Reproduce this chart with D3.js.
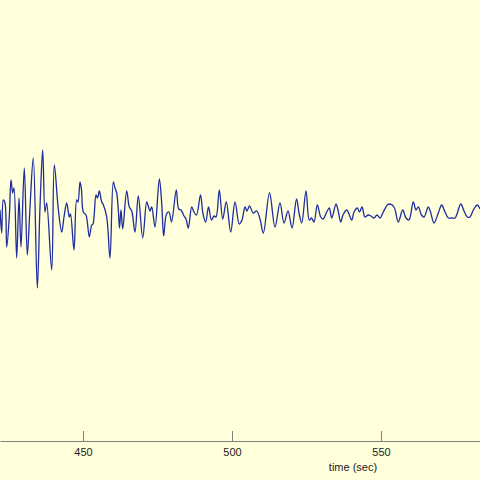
<!DOCTYPE html>
<html>
<head>
<meta charset="utf-8">
<script src="https://cdn.jsdelivr.net/npm/d3@7"></script>
<style>
  html, body { margin: 0; padding: 0; background: #ffffdc; }
  svg { display: block; }
</style>
</head>
<body>
<svg id="chart" width="480" height="480"></svg>
<script>
// time (sec)
const times = [422.15,422.72,423.26,423.83,424.40,425.27,425.84,426.41,426.85,427.75,
428.53,429.20,430.30,431.31,432.22,433.32,434.67,435.57,436.48,437.25,
437.82,439.50,440.37,441.71,442.86,443.63,444.53,445.41,445.81,446.98,
447.89,448.32,449.00,449.50,450.10,451.01,452.12,452.92,453.36,454.37,
454.87,455.47,456.28,456.71,457.96,459.06,460.17,460.74,461.31,461.85,
462.25,462.75,463.33,464.67,465.54,466.35,467.45,468.56,470.04,471.38,
471.98,472.49,473.06,474.16,475.61,476.41,477.08,478.02,478.86,479.70,
481.31,482.12,482.89,483.90,484.57,485.34,486.48,487.25,488.09,489.43,
490.27,491.18,492.12,493.12,493.96,494.63,495.74,496.88,498.09,499.57,
501.01,502.45,503.36,504.37,505.04,505.88,507.15,508.29,509.40,510.51,
512.59,514.43,516.11,517.45,518.79,520.14,521.65,522.49,523.39,524.84,
525.94,526.68,527.52,528.63,529.77,530.54,531.78,532.65,533.46,534.90,
535.57,536.48,537.25,538.49,539.26,540.17,540.94,542.05,542.79,543.63,
544.63,545.74,546.65,547.65,548.66,549.67,550.77,552.12,553.02,554.37,
555.81,557.28,558.39,559.40,560.84,561.75,562.52,563.59,564.43,565.88,
566.61,567.79,569.23,570.37,571.48,572.59,573.66,574.84,576.75,577.86,
578.96,579.87,580.98,582.32,583.22];

// amplitude
const amplitudes = [0.5,-1.8,1.5,1.2,-3.2,-0.2,3.5,2.2,2.7,-4.3,
1.7,-3.2,4.7,-4.0,0.8,5.7,-7.3,0.8,6.5,0.3,
1.2,-5.5,5.0,0.6,-1.7,-0.2,1.2,-0.2,0.1,-3.5,
1.5,1.3,3.3,2.5,0.3,0.0,-2.2,-1.0,-0.9,2.0,
1.7,2.4,1.3,1.1,-0.2,-4.3,3.3,2.7,2.2,0.5,
-1.3,0.5,-1.4,2.4,0.8,0.4,-1.7,1.9,-2.3,1.3,
0.8,0.4,0.8,-1.2,3.6,1.2,-2.1,0.1,0.3,-0.7,
2.5,0.6,0.5,-0.1,-0.4,-1.3,0.8,0.3,0.0,2.0,
0.1,-0.7,0.8,-0.5,-0.1,-0.2,2.5,-0.4,1.3,-1.7,
1.3,-0.9,-0.5,0.8,0.4,0.9,0.2,0.4,-0.4,-1.8,
2.2,-1.2,1.2,-0.8,0.4,-1.3,1.6,0.2,-0.8,2.4,
-0.5,-0.3,-0.7,1.0,-0.2,-0.4,0.3,0.7,-0.3,1.1,
0.5,-0.7,0.0,0.5,0.1,-0.5,0.3,0.7,0.3,0.8,
-0.2,0.0,-0.1,-0.3,0.0,-0.3,0.3,1.0,1.1,0.8,
-0.7,0.5,-0.3,-0.5,1.3,0.5,0.8,0.0,-0.2,0.8,
0.3,-0.8,0.2,1.0,0.3,-0.3,-0.3,-0.3,1.1,0.4,
-0.2,-0.2,0.5,1.0,0.6];

const tickValues = [450, 500, 550];
const xLabel = "time (sec)";

const W = 480, H = 480;
const svg = d3.select("#chart");

svg.append("rect").attr("width", W).attr("height", H).attr("fill", "#ffffdc");

const axisY = 441;
const x = d3.scaleLinear().domain([422.15, 583.22]).range([0, 480]);
const y = d3.scaleLinear().domain([-22.6, 21.5]).range([axisY, 0]);

const data = times.map((t, i) => ({t, a: amplitudes[i]}));

const line = d3.line()
  .x(d => x(d.t))
  .y(d => y(d.a))
  .curve(d3.curveCatmullRom.alpha(0.5));

svg.append("path")
  .datum(data)
  .attr("fill", "none")
  .attr("stroke", "#1e2c9e")
  .attr("stroke-width", 1.3)
  .attr("stroke-linejoin", "round")
  .attr("d", line);

const axis = d3.axisBottom(x)
  .tickValues(tickValues)
  .tickSizeInner(-10)
  .tickSizeOuter(0)
  .tickPadding(7)
  .tickFormat(d3.format("d"));

const g = svg.append("g")
  .attr("transform", `translate(0,${axisY})`)
  .call(axis);

g.select(".domain").attr("stroke", "#808080").attr("stroke-width", 1);
g.selectAll(".tick line").attr("stroke", "#808080").attr("stroke-width", 1);
g.selectAll(".tick text")
  .attr("fill", "#222")
  .style("font-family", "'Liberation Sans', Arial, sans-serif")
  .style("font-size", "11px");

svg.append("text")
  .attr("x", 353)
  .attr("y", 471)
  .attr("text-anchor", "middle")
  .attr("fill", "#222")
  .style("font-family", "'Liberation Sans', Arial, sans-serif")
  .style("font-size", "11px")
  .text(xLabel);
</script>
</body>
</html>
